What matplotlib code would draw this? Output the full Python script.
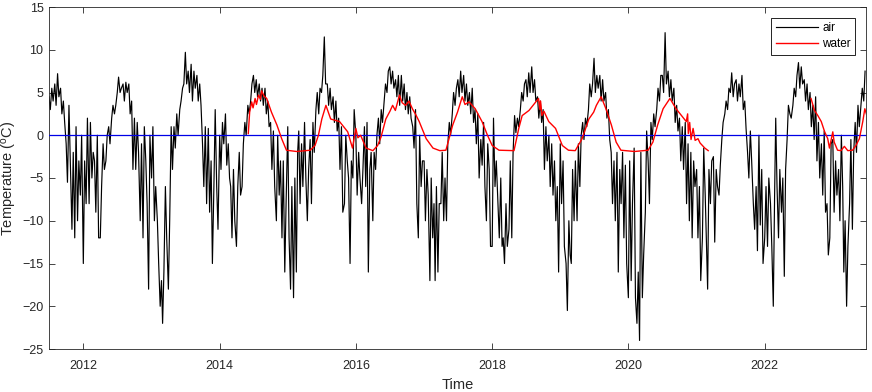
import numpy as np
import pandas as pd
import matplotlib
matplotlib.use('Agg')
import matplotlib.pyplot as plt
import matplotlib.dates as mdates
from datetime import datetime

plt.rcParams['font.family'] = ['Liberation Sans', 'DejaVu Sans']

# air temperature, 4 readings per month (days 1, 8, 16, 23), one array per Jul-Jun season
air_2011_12 = [4.5, 3.0, 5.5, 4.0, 6.0, 3.5, 7.2, 4.5, 5.5, 2.5, 4.0, 1.5,
               -1, -5.5, 3.5, -3, -11, -2, -12, 1, -10, -3, -7, 0,
               -15, -3, -8, 2, -8, 1.5, -5, -2, -3, -9, 0, -12,
               -12, -6, -1, -4, -3, 0, 1, -1, 2, 3.5, 2.5, 3.5]
air_2012_13 = [5, 6.8, 5, 5.5, 6, 4, 6.2, 5, 6, 2.5, 4, -4,
               2, -4, 1.5, -2, -10, -1, -12, 1, -3, -8, -18, 0,
               -5, 1, -10, -6, -10, -15, -20, -17, -22, -16, -6, -12,
               -18, -10, 1, -4, 1, -1.5, 2.5, 0, 3, 4, 5.5, 6]
air_2013_14 = [9.7, 6, 7.5, 5, 8.3, 4, 7.5, 5.5, 7, 4, 6, 3.5,
               -1, -6, 1, -8, 0.8, -9, -3, -15, -6, 3, -6, -11,
               0, -4, 1.5, -1, 2.5, -3.5, -1, -5, -6, -12, -4, -10,
               -13, -6, -2, -7, -6, -1, 1.5, 0, 3.5, 2.5, 4, 6]
air_2014_15 = [7, 5, 6.5, 4.5, 6, 4, 5.5, 3.5, 5.5, 2.5, 4, 1,
               1.5, -4, 0.5, -6, -10, 0, -7, -3, -12, -3, -16, -8,
               1, -12, -18, -6, -19, -5, -16, -2, 0.5, -8, -1, -6,
               1.5, -5, -10, -4, -0.5, -8, 1.5, -2, 3, 5, 2.5, 5.5]
air_2015_16 = [5, 7, 11.5, 6, 6, 3.5, 5.5, 3, 4.5, 1.5, 4, 0.5,
               2, -4, 1, -9, -8, 0, -3, -5, -15, -3, -5, 3,
               0, -7, -2, -5, -8, -4, 1, -6, 1.5, -16, -4, -2,
               -10, -2, -4, 0, 2, -1, 3, 1.5, 4, 6, 5, 7.5]
air_2016_17 = [8, 6, 7.5, 5.5, 6.5, 4.5, 7, 3.5, 7, 4, 6, 3,
               5, 2.5, 4.5, 2, 1, -1.5, 3, -8, -12, 0, -6, -3,
               -3, -10, -4, -7, -17, -5, -12, -8, -17, -6, -16, -8,
               -8, -2, -10, -5, -10, -1, 1.5, 0, 2.5, 5, 3.5, 5.5]
air_2017_18 = [6.5, 4.5, 7.5, 5, 7, 4, 6, 3.5, 5, 2.5, 5.5, 1.5,
               3, -1, 2.5, -5, -0.5, -3.5, 1.5, -6, -10, -1, -4, -13,
               -13, 2, -6, -3, -8, -12, -5, -13, -12, -15, -8, -13,
               -11, -3, -12, -2, 2.3, 0.3, 2, 1, 3, 5, 4, 6]
air_2018_19 = [6.5, 4.5, 7.3, 5, 8, 5, 6.5, 4, 4.5, 2, 4, 1.5,
               3, -4, 1, -3, 0, -6, -1, -7, -3, -10, -6, -16,
               -1, -8, -3, -13, -15, -20.5, -10, -14, -15, -4, -10, -3,
               -10, -1, -6, 0, 1.5, -0.5, 2, 1, 3, 6, 4.5, 6]
air_2019_20 = [9, 5, 7, 5.5, 7, 4, 6.5, 4, 5, 2, 3, -0.5,
               -2, -8, -3, -10, -2, -16, -4, -8, -2, -12, -3.5, -15,
               -19, -3, -17, -8, -1.5, -19, -22, -16, -24, -2, -19, -14,
               -9, 0.5, -3, -8, 1.5, -0.5, 2.5, 1, 3, 5.5, 4, 7]
air_2020_21 = [7, 5, 12, 6, 7.5, 4.5, 6.5, 4, 5.5, 1.5, 3.5, 0.5,
               2, -3, 1, -4, 1.5, -8, -1, -10, -2, -12, -3, -6,
               -4, -12, -6, -17, -12, -1.5, -7, -13, -18, -4, -8, -3,
               -2.5, -12.5, -4, -6, -7, -3.5, -0.5, 1.5, 2.5, 4, 3, 5.5]
air_2021_22 = [5, 7.3, 4.5, 6, 6.5, 4, 6, 4.5, 7, 3, 4, 0.8,
               -2, -5, 0.5, -3, -8, -11, -6, -13.5, 0, -10.5, -4, -15,
               -12, -6, -13, -5, -8, -13, -20, -7, 2, -6, -12, -4,
               -9, -5, -16.5, -4, -0.5, 3.5, 2.5, 2, 3.5, 5.5, 4.5, 7]
air_2022_23 = [8.5, 5.5, 8, 6, 6.5, 4, 6, 3, 5, 1, 3.5, -0.5,
               4.5, -3, 1.5, -5, -1, -7, 0.5, -9, -8, -14, -12, -1,
               -0.5, -9, -3, -7, -4, -10, 0, -6, -16, -10, -20, -13,
               -8, -0.5, -11, -2, 1.5, -2, 3.5, 1, 3.5, 5.5, 4, 7.5]

# water temperature, read at decimal-year positions (two logging periods)
water_a_t = [2014.42, 2014.44, 2014.47, 2014.49, 2014.52, 2014.54, 2014.57, 2014.60,
             2014.615, 2014.65, 2014.69, 2014.76,
             2014.84, 2014.91, 2014.98, 2015.13, 2015.33, 2015.40, 2015.45, 2015.50,
             2015.56, 2015.63, 2015.76, 2015.88, 2015.95, 2016.00, 2016.03, 2016.07, 2016.15,
             2016.25, 2016.32, 2016.37, 2016.44, 2016.50, 2016.54, 2016.58, 2016.64, 2016.68,
             2016.73, 2016.78, 2016.83, 2016.88,
             2016.93, 2017.03, 2017.13, 2017.23, 2017.32, 2017.42, 2017.49, 2017.56,
             2017.60, 2017.66, 2017.75, 2017.85, 2017.93, 2018.00, 2018.10, 2018.32, 2018.39,
             2018.44, 2018.54, 2018.68, 2018.70, 2018.71, 2018.73, 2018.76, 2018.83, 2018.93,
             2019.03, 2019.12,
             2019.22, 2019.32, 2019.42, 2019.49, 2019.53, 2019.60, 2019.67, 2019.75,
             2019.82, 2019.89, 2020.09, 2020.29, 2020.36, 2020.43, 2020.51, 2020.61,
             2020.70, 2020.78, 2020.85, 2020.87, 2020.88, 2020.90, 2020.92, 2020.95,
             2020.98, 2021.02, 2021.05, 2021.12, 2021.17]
water_a = [0.2, 2.7, 3.9, 3.2, 4.3, 3.6, 4.7, 4.2,
           5.2, 4.6, 4.3, 2.7,
           1.2, -0.4, -1.75, -1.9, -1.75, -1.2, 0.0, 1.9,
           3.5, 1.9, 1.6, 0.4, -1.5, 0.8, -0.3, 0.0, -1.5,
           -1.8, -1.2, -0.2, 1.9, 2.8, 3.5, 2.9, 4.7, 3.8,
           3.5, 4.0, 3.1, 2.4,
           1.6, -0.4, -1.5, -1.8, -1.75, 1.2, 2.7, 4.5,
           3.6, 3.9, 3.1, 1.6, 0.0, -1.2, -1.75, -1.8, 0.8,
           2.3, 2.9, 4.3, 3.0, 4.0, 2.3, 2.8, 1.6, 0.8,
           -1.2, -1.75,
           -1.8, -0.4, 1.9, 2.7, 3.5, 4.5, 3.1, 1.2,
           -0.8, -1.75, -1.9, -1.75, -0.8, 1.2, 3.1, 4.3,
           3.1, 2.3, 1.6, 2.5, 0.2, 1.5, -0.5, 0.8,
           -0.6, -0.4, -0.9, -1.5, -1.8]
water_b_t = [2022.68, 2022.73, 2022.78, 2022.83, 2022.88, 2022.925, 2022.95, 2023.00,
             2023.02, 2023.07, 2023.12, 2023.17, 2023.22, 2023.29, 2023.34, 2023.39,
             2023.44, 2023.47, 2023.50]
water_b = [4.3, 2.9, 2.3, 1.6, 0.4, -0.4, -1.5, 0.4,
           -0.8, -1.75, -1.8, -1.3, -1.8, -1.75, -1.2, -0.4,
           1.6, 3.1, 2.3]

year_ticks = [2012, 2014, 2016, 2018, 2020, 2022]


def to_dates(dec_years):
    out = []
    for y in dec_years:
        yr = int(y)
        start = pd.Timestamp(datetime(yr, 1, 1))
        out.append(start + pd.Timedelta(days=(y - yr) * 365.25))
    return out


months = pd.date_range('2011-07-01', '2023-06-01', freq='MS')
air_dates = [m + pd.Timedelta(days=d) for m in months for d in (0, 7, 15, 22)]
air = np.concatenate([air_2011_12, air_2012_13, air_2013_14, air_2014_15,
                      air_2015_16, air_2016_17, air_2017_18, air_2018_19,
                      air_2019_20, air_2020_21, air_2021_22, air_2022_23])

fig = plt.figure(figsize=(8.72, 3.92), dpi=100)
ax = fig.add_axes([49 / 872, 1 - 349 / 392, 817 / 872, 342 / 392])

ax.plot(air_dates, air, color='k', lw=0.85, label='air', zorder=2)
ax.axhline(0, color='#0000e6', lw=0.9, zorder=3)
ax.plot(to_dates(water_a_t), water_a, color='r', lw=1.0, label='water', zorder=4)
ax.plot(to_dates(water_b_t), water_b, color='r', lw=1.0, zorder=4)

ax.set_xlim(datetime(2011, 7, 1), datetime(2023, 6, 28))
ax.set_ylim(-25, 15)
ax.set_yticks(np.arange(-25, 16, 5))
ax.set_xticks([datetime(y, 1, 1) for y in year_ticks])
ax.xaxis.set_major_formatter(mdates.DateFormatter('%Y'))

grey = '#262626'
ax.tick_params(direction='in', top=True, right=True, length=4, width=0.6,
               labelsize=9, colors=grey, labelcolor=grey)
ax.tick_params(axis='x', pad=8)
ax.tick_params(axis='y', pad=4)
for s in ax.spines.values():
    s.set_linewidth(0.6)
    s.set_color(grey)

ax.set_xlabel('Time', fontsize=10.5, color=grey, labelpad=4)
ax.set_ylabel(r'Temperature ($\mathregular{^o}$C)', fontsize=10.5, color=grey)
ax.yaxis.set_label_coords(-0.037, 0.5)

leg = ax.legend(loc='upper right', fontsize=8.5, fancybox=False, edgecolor='k',
                framealpha=1, handlelength=3.6, borderaxespad=0.9,
                handletextpad=0.3, borderpad=0.4, labelspacing=0.3)
leg.get_frame().set_linewidth(0.6)

fig.savefig('out.png', dpi=100)
